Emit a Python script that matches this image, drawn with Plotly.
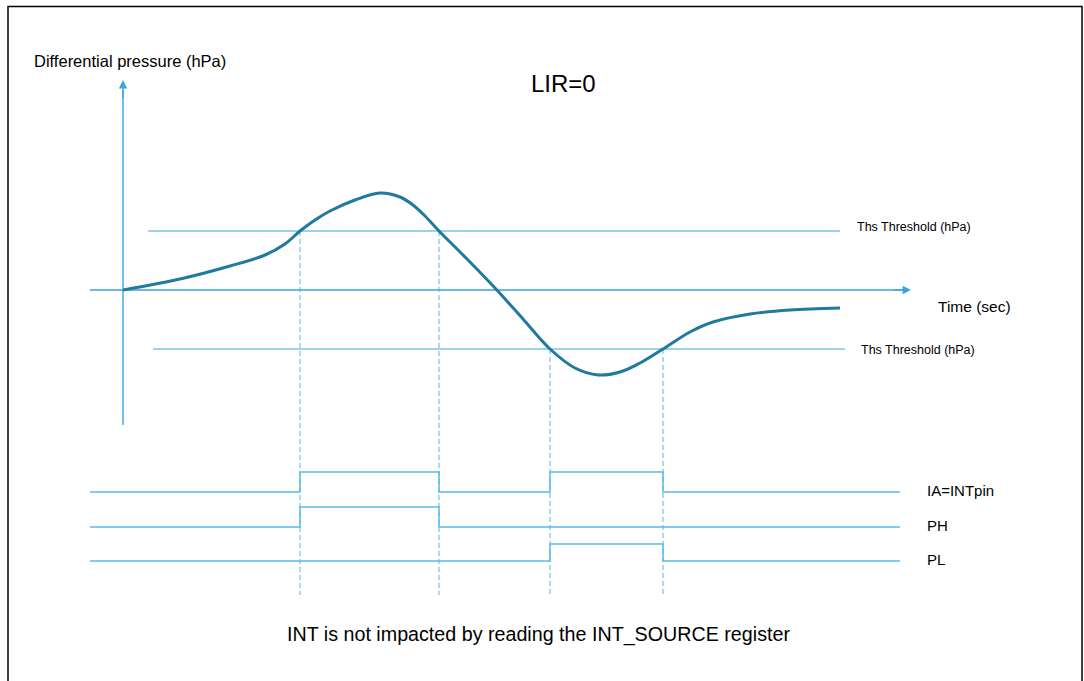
import plotly.graph_objects as go

# ---- data (time units, pressure units; origin at the axes crossing) ----
curve_t = [0, 57, 107, 142, 162, 177, 192, 207, 232, 257, 277, 290, 302, 316, 345, 372, 400, 427, 452, 475, 497, 517, 540, 567, 590, 627, 667, 717]
curve_p = [0, 11, 24, 35, 46, 59, 70, 79, 90, 97, 93, 85, 74, 59, 30, 2, -29, -59, -78, -85, -82, -73, -59, -42, -32, -24, -20, -18]

ths_high = 59
ths_low = -59
cross_t = [177, 316, 427, 540]

sig_names = ["IA=INTpin", "PH", "PL"]
sig_base = [-202, -237, -271]
sig_amp = [20, 20, 17]
sig_high = [[(177, 316), (427, 540)], [(177, 316)], [(427, 540)]]

sig_start, sig_end = -33, 777

AX_COL = "#3aa6dc"
SIG_COL = "#5bbbe6"
DASH_COL = "#7ccaee"
CURVE_COL = "#20799f"

fig = go.Figure()

# threshold lines
fig.add_trace(go.Scatter(x=[25, 717], y=[ths_high, ths_high], mode="lines",
                         line=dict(color=AX_COL, width=1.2), hoverinfo="skip"))
fig.add_trace(go.Scatter(x=[30, 722], y=[ths_low, ths_low], mode="lines",
                         line=dict(color=AX_COL, width=1.2), hoverinfo="skip"))

# dashed crossing lines
for i, t in enumerate(cross_t):
    top = ths_high if i < 2 else ths_low
    fig.add_trace(go.Scatter(x=[t, t], y=[top, -305], mode="lines",
                             line=dict(color=DASH_COL, width=1.3, dash="5px,3px"), hoverinfo="skip"))

# digital signals
for base, amp, highs in zip(sig_base, sig_amp, sig_high):
    xs, ys = [sig_start], [base]
    for a, b in highs:
        xs += [a, a, b, b]
        ys += [base, base + amp, base + amp, base]
    xs.append(sig_end)
    ys.append(base)
    fig.add_trace(go.Scatter(x=xs, y=ys, mode="lines",
                             line=dict(color=SIG_COL, width=1.5), hoverinfo="skip"))

# axes lines
fig.add_trace(go.Scatter(x=[-33, 780], y=[0, 0], mode="lines",
                         line=dict(color=AX_COL, width=1.4), hoverinfo="skip"))
fig.add_trace(go.Scatter(x=[0, 0], y=[-135, 200], mode="lines",
                         line=dict(color=AX_COL, width=1.4), hoverinfo="skip"))

# curve
fig.add_trace(go.Scatter(x=curve_t, y=curve_p, mode="lines",
                         line=dict(color=CURVE_COL, width=3, shape="spline", smoothing=1.0),
                         hoverinfo="skip"))

annotations = [
    # arrowheads
    dict(x=0, y=210, ax=0, ay=190, xref="x", yref="y", axref="x", ayref="y", text="",
         showarrow=True, arrowhead=2, arrowsize=1.2, arrowwidth=1.4, arrowcolor=AX_COL),
    dict(x=788, y=0, ax=770, ay=0, xref="x", yref="y", axref="x", ayref="y", text="",
         showarrow=True, arrowhead=2, arrowsize=1.2, arrowwidth=1.4, arrowcolor=AX_COL),
    dict(x=-91, y=229, xref="x", yref="y", text="Differential pressure (hPa)", showarrow=False,
         xanchor="left", font=dict(size=16.5, color="black")),
    dict(x=440, y=207, xref="x", yref="y", text="LIR=0", showarrow=False,
         font=dict(size=24, color="black")),
    dict(x=732, y=63, xref="x", yref="y", text="Ths Threshold (hPa)", showarrow=False,
         xanchor="left", font=dict(size=12.5, color="black")),
    dict(x=736, y=-60, xref="x", yref="y", text="Ths Threshold (hPa)", showarrow=False,
         xanchor="left", font=dict(size=12.5, color="black")),
    dict(x=813, y=-16, xref="x", yref="y", text="Time (sec)", showarrow=False,
         xanchor="left", font=dict(size=15.5, color="black")),
    dict(x=415, y=-344, xref="x", yref="y", text="INT is not impacted by reading the INT_SOURCE register",
         showarrow=False, font=dict(size=19.7, color="black")),
]
for name, base in zip(sig_names, sig_base):
    annotations.append(dict(x=802, y=base + 2, xref="x", yref="y", text=name, showarrow=False,
                            xanchor="left", font=dict(size=15, color="black")))

fig.update_layout(
    width=1084, height=681,
    margin=dict(l=0, r=0, t=0, b=0),
    paper_bgcolor="white", plot_bgcolor="white",
    showlegend=False,
    font=dict(family="Liberation Sans, Arial, sans-serif"),
    xaxis=dict(range=[-123, 961], visible=False, fixedrange=True),
    yaxis=dict(range=[-391, 290], visible=False, fixedrange=True),
    annotations=annotations,
    shapes=[dict(type="rect", xref="paper", yref="paper", x0=8 / 1084, x1=1082 / 1084,
                 y0=-0.05, y1=1 - 6.5 / 681, line=dict(color="black", width=1.5))],
)

fig.write_html("out.html", config={"displayModeBar": False},
               post_script="document.body.style.margin='0';")
